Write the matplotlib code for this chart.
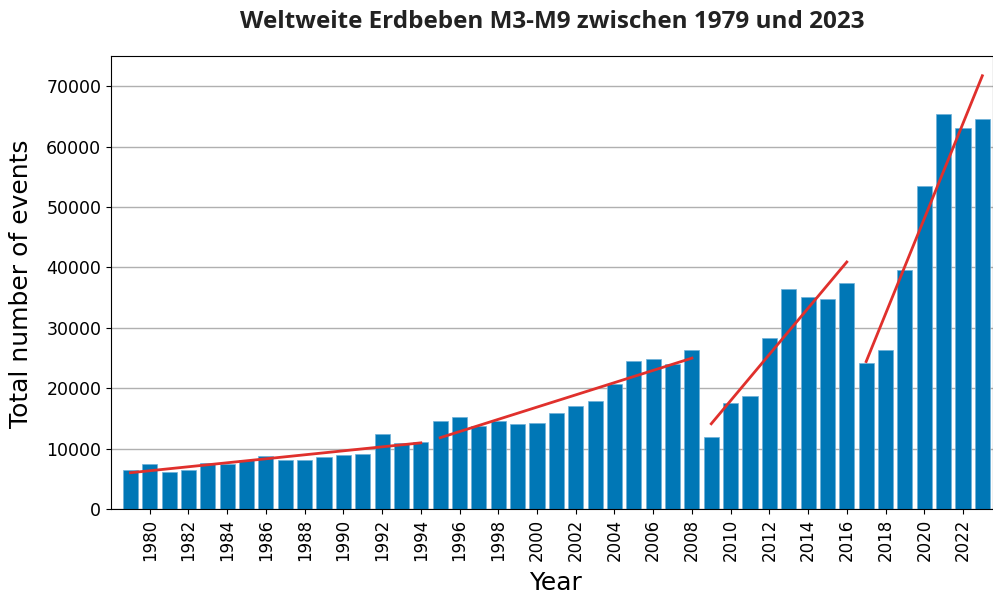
import matplotlib
matplotlib.use('Agg')
import matplotlib.pyplot as plt
import numpy as np

plt.rcParams['font.family'] = 'DejaVu Sans'

# data
years = np.arange(1979, 2024)
events = [6400, 7450, 6120, 6400, 7610, 7390, 8110, 8770, 8160, 8160,
          8550, 8940, 9160, 12410, 10870, 11140, 14620, 15170, 13790, 14620,
          14070, 14290, 15830, 17000, 17920, 20630, 24490, 24770, 23990, 26260,
          11910, 17490, 18750, 28300, 36400, 35140, 34700, 37350, 24110, 26310,
          39500, 53450, 65480, 63160, 64490]
# periods with a separate linear trend
segments = [(1979, 1994), (1995, 2008), (2009, 2016), (2017, 2023)]

fig = plt.figure(figsize=(9.93, 5.94), dpi=100)
ax = fig.add_axes([111/993, 1 - 509/594, 1 - 111/993, (509 - 56)/594])

ax.bar(years, events, width=0.78, color='#0077b6', edgecolor='#6fb0d8', linewidth=0.5, zorder=2)

events = np.array(events)
for start, end in segments:
    mask = (years >= start) & (years <= end)
    coef = np.polyfit(years[mask], events[mask], 1)
    xs = np.array([start, end])
    ax.plot(xs, np.polyval(coef, xs), color='#e0302c', linewidth=2, zorder=3)

ax.set_xlim(1978, 2023.55)
ax.set_ylim(0, 75000)
ax.set_xticks(np.arange(1980, 2023, 2))
ax.set_xticklabels([str(y) for y in range(1980, 2023, 2)], rotation=90, fontsize=12)
ax.set_yticks(np.arange(0, 70001, 10000))
ax.tick_params(axis='y', labelsize=12.5)
ax.yaxis.grid(True, color='#b0b0b0', linewidth=1, zorder=0)
ax.set_axisbelow(True)

ax.set_xlabel('Year', fontsize=18)
ax.set_ylabel('Total number of events', fontsize=18)
ax.xaxis.set_label_coords(0.5045, -0.136)
ax.yaxis.set_label_coords(-0.088, 0.497)
fig.text(0.556, 0.963, 'Weltweite Erdbeben M3-M9 zwischen 1979 und 2023', ha='center', va='center',
         fontsize=17.5, fontweight='bold', family='Open Sans', color='#222222')

fig.savefig('out.png', dpi=100)
